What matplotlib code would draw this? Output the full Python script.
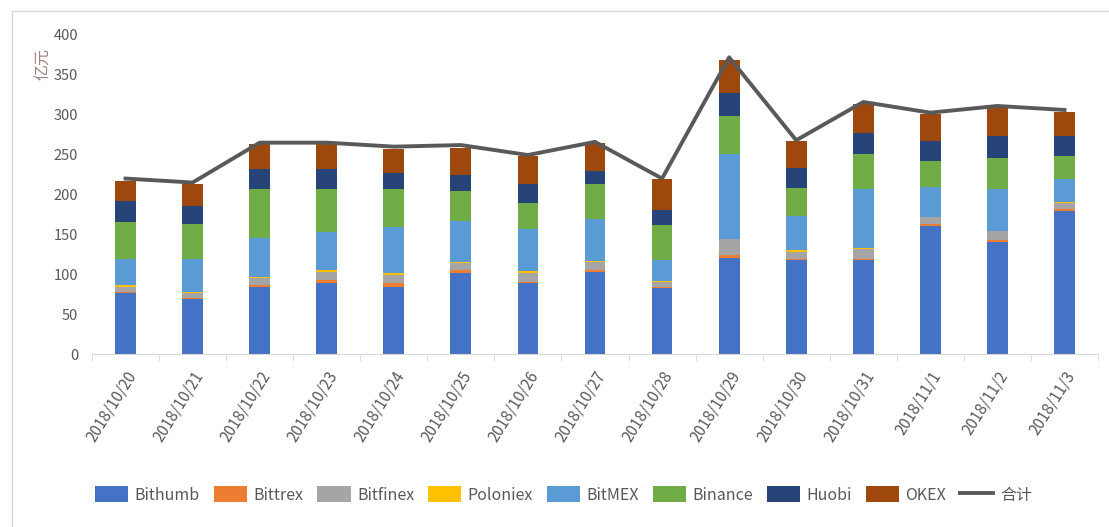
import numpy as np
import matplotlib
matplotlib.use('Agg')
from matplotlib import pyplot as plt
from matplotlib.lines import Line2D

plt.rcParams['font.family'] = ['Liberation Sans Narrow', 'Noto Sans CJK SC', 'DejaVu Sans']

dates = ['2018/10/20', '2018/10/21', '2018/10/22', '2018/10/23', '2018/10/24',
         '2018/10/25', '2018/10/26', '2018/10/27', '2018/10/28', '2018/10/29',
         '2018/10/30', '2018/10/31', '2018/11/1', '2018/11/2', '2018/11/3']

bithumb  = [76, 68.5, 84.5, 88.6, 84.5, 101, 88.6, 103, 82.3, 121, 117.9, 117.9, 161, 140.8, 179.7]
bittrex  = [2, 1.5, 1.5, 4.2, 4.1, 4, 2.1, 2, 2.2, 2.7, 1.6, 1.8, 2, 2.2, 2.1]
bitfinex = [6, 6, 9, 10.2, 10.4, 8.7, 10.3, 10.8, 6.2, 20.3, 8.8, 12.3, 8.4, 11.6, 8]
poloniex = [2.5, 2, 2, 2.7, 2, 2.1, 2.6, 0.7, 0.3, 0.3, 2.1, 0.3, 0.2, 0.2, 0.2]
bitmex   = [33, 41.5, 49, 47.3, 58, 51.2, 53.1, 52.5, 27.2, 106.4, 43.1, 74.5, 37.2, 51.9, 29.2]
binance  = [45.5, 43.5, 60.5, 53.5, 47.5, 37, 33.1, 43.8, 43.1, 47.2, 35.1, 43.9, 33.4, 39.5, 29]
huobi    = [27, 23, 25, 25, 20.5, 21, 23, 16.7, 18.7, 29.3, 25.1, 26.3, 24.7, 27, 25]
okex     = [25, 27, 31.5, 31.5, 29.7, 33, 35.2, 34.5, 39.3, 41.1, 33, 36.8, 34.3, 35, 30.8]
total    = [220, 215, 265, 265, 260, 262, 249.5, 266, 220, 372, 268, 316, 302.6, 311, 306]

series = [('Bithumb', bithumb, '#4472C4'), ('Bittrex', bittrex, '#ED7D31'),
          ('Bitfinex', bitfinex, '#A5A5A5'), ('Poloniex', poloniex, '#FFC000'),
          ('BitMEX', bitmex, '#5B9BD5'), ('Binance', binance, '#70AD47'),
          ('Huobi', huobi, '#264478'), ('OKEX', okex, '#9E480E')]

W, H = 1109, 527
fig = plt.figure(figsize=(W / 100, H / 100), dpi=100)
ax = fig.add_axes([92 / W, 1 - 354 / H, (1098 - 92) / W, (354 - 35) / H])

x = np.arange(len(dates))
bottom = np.zeros(len(dates))
handles = []
for name, vals, col in series:
    b = ax.bar(x, vals, 0.31, bottom=bottom, color=col, label=name, zorder=2)
    bottom += np.array(vals)
    handles.append(b)
ln, = ax.plot(x, total, color='#595959', lw=2.8, label='合计', zorder=3)
handles.append(ln)

ax.set_xlim(-0.5, len(dates) - 0.5)
ax.set_ylim(0, 400)
ax.set_yticks(np.arange(0, 401, 50))
ax.set_xticks(x)
ax.set_xticklabels(dates, rotation=58, ha='right', rotation_mode='anchor', fontsize=11, color='#595959')
ax.set_xticks(np.arange(-0.5, len(dates), 1), minor=True)
ax.tick_params(axis='x', which='major', length=0, pad=10)
ax.tick_params(axis='x', which='minor', length=5, color='#D9D9D9')
ax.tick_params(axis='y', length=0, labelsize=10.5, labelcolor='#595959', pad=10)
for s in ['top', 'right', 'left']:
    ax.spines[s].set_visible(False)
ax.spines['bottom'].set_color('#D9D9D9')
ax.set_ylabel('亿元', color='#A08080', fontsize=11.5, labelpad=2)
ax.yaxis.set_label_coords(-0.04, 0.91)

fig.legend(handles=handles, loc='center', bbox_to_anchor=(0.508, 1 - 495 / H), ncol=9,
           frameon=False, fontsize=11.5, handlelength=2.1, handleheight=1.1,
           handletextpad=0.4, columnspacing=0.85, labelcolor='#595959')

fig.add_artist(Line2D([12 / W, 12 / W], [0, 1 - 11 / H], color='#D9D9D9', lw=1))
fig.add_artist(Line2D([12 / W, 1], [1 - 11 / H, 1 - 11 / H], color='#D9D9D9', lw=1))

fig.savefig('out.png', dpi=100)
plt.close('all')
